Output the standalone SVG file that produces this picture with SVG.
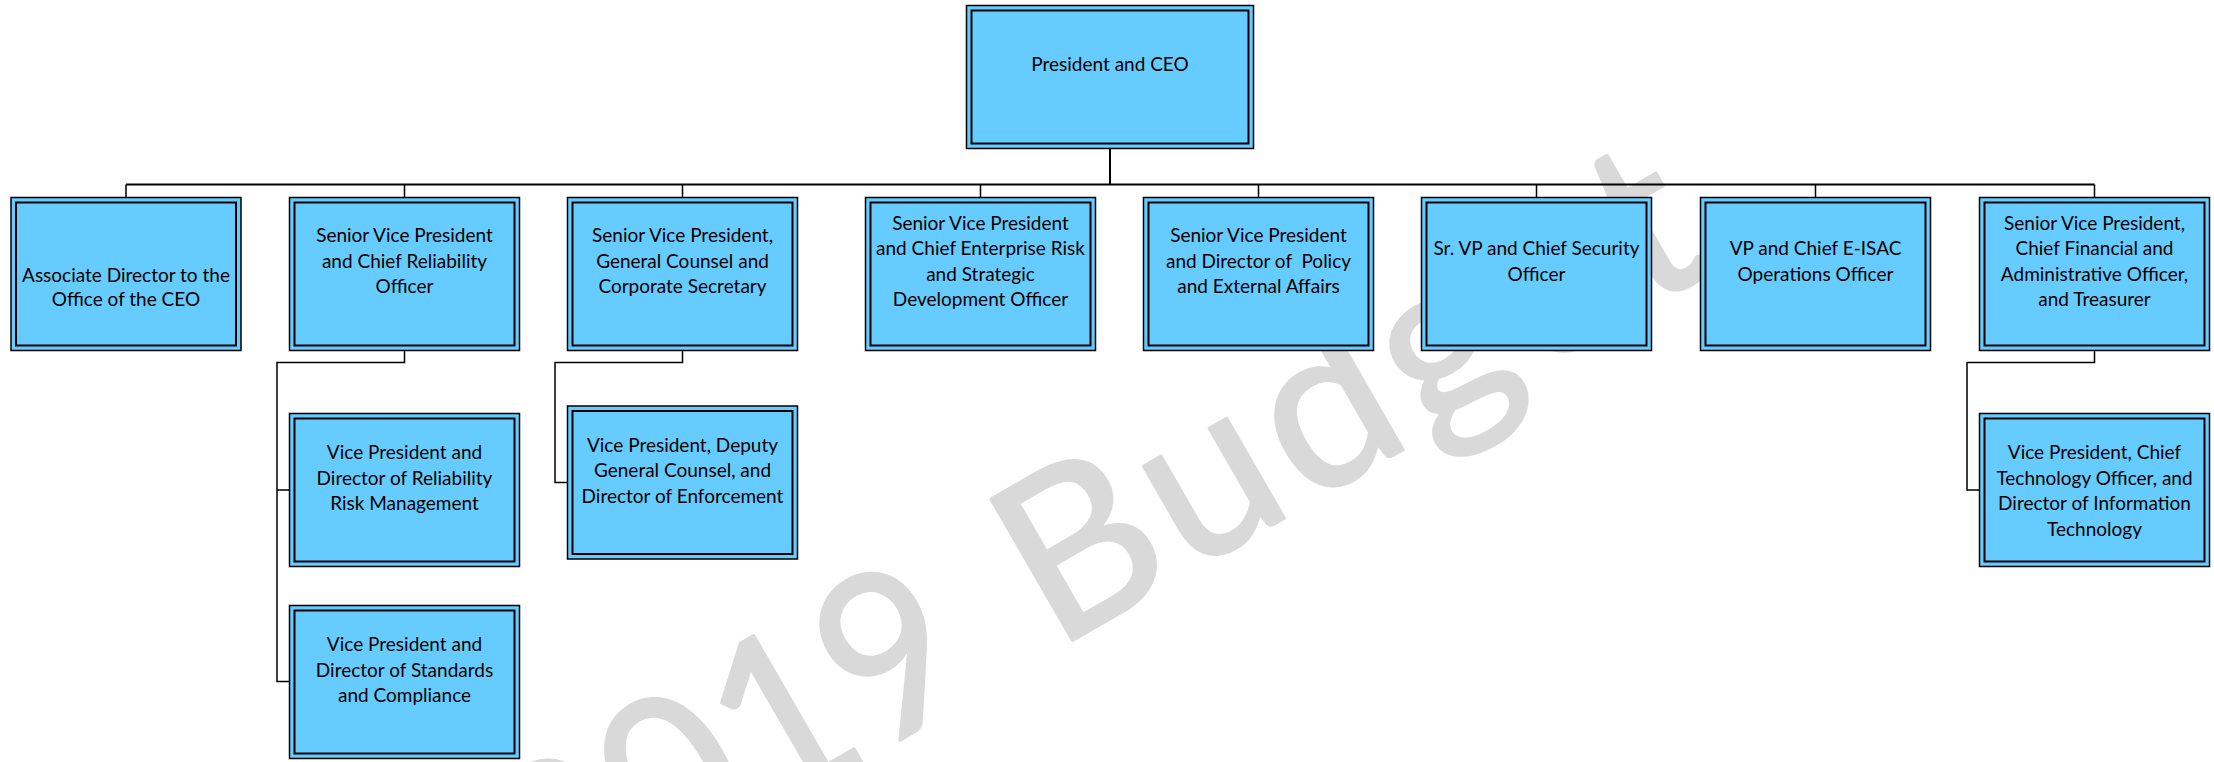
<svg xmlns="http://www.w3.org/2000/svg" width="2214" height="762" viewBox="0 0 2214 762">
<style>
.wm{font-family:Lato,"Open Sans",sans-serif;font-size:228px;fill:#d9d9d9;stroke:#d9d9d9;stroke-width:3;stroke-linejoin:round}
.ob{fill:#66ccff;stroke:#000;stroke-width:1.5}
.ib{fill:none;stroke:#000;stroke-width:2}
.t{font-family:Lato,"Liberation Sans",sans-serif;font-size:19px;fill:#000;text-anchor:middle}
.bus{fill:none;stroke:#000;stroke-width:2}
.con{fill:none;stroke:#000;stroke-width:1.5}
</style>
<rect width="2214" height="762" fill="#fff"/>
<g id="watermark">
<text class="wm" transform="translate(1070,642) rotate(-30)"><tspan x="-600" y="0" textLength="500" lengthAdjust="spacingAndGlyphs">2019</tspan><tspan x="-18" y="0" textLength="765" lengthAdjust="spacing">Budget</tspan></text>
</g>
<g id="connectors">
<path class="bus" d="M1110 148.5V184.5M126 184.5H2094.5"/>
<path class="con" d="M126 184.5V197.5M404.5 184.5V197.5M682.5 184.5V197.5M980.5 184.5V197.5M1258.5 184.5V197.5M1536.5 184.5V197.5M1815.5 184.5V197.5M2094.5 184.5V197.5"/>
<path class="con" d="M404.5 350.5V362.5H277V681.5H289.5M277 490H289.5"/>
<path class="con" d="M682.5 350.5V362.5H555V482.5H567.5"/>
<path class="con" d="M2094.5 350.5V362.5H1967V490H1979.5"/>
</g>
<g id="ceo">
<rect class="ob" x="966.5" y="5.5" width="287" height="143"/>
<rect class="ib" x="971.5" y="10.5" width="277" height="133"/>
<text class="t" x="1110" y="71">President and CEO</text>
</g>
<g id="assoc">
<rect class="ob" x="11" y="197.5" width="230" height="153"/>
<rect class="ib" x="16" y="202.5" width="220" height="143"/>
<text class="t" x="126" y="281.5">Associate Director to the</text>
<text class="t" x="126" y="306">Office of the CEO</text>
</g>
<g id="svp-reliability">
<rect class="ob" x="289.5" y="197.5" width="230" height="153"/>
<rect class="ib" x="294.5" y="202.5" width="220" height="143"/>
<text class="t" x="404.5" y="242">Senior Vice President</text>
<text class="t" x="404.5" y="267.5">and Chief Reliability</text>
<text class="t" x="404.5" y="293">Officer</text>
</g>
<g id="svp-counsel">
<rect class="ob" x="567.5" y="197.5" width="230" height="153"/>
<rect class="ib" x="572.5" y="202.5" width="220" height="143"/>
<text class="t" x="682.5" y="242">Senior Vice President,</text>
<text class="t" x="682.5" y="267.5">General Counsel and</text>
<text class="t" x="682.5" y="293">Corporate Secretary</text>
</g>
<g id="svp-risk">
<rect class="ob" x="865.5" y="197.5" width="230" height="153"/>
<rect class="ib" x="870.5" y="202.5" width="220" height="143"/>
<text class="t" x="980.5" y="229.5">Senior Vice President</text>
<text class="t" x="980.5" y="255">and Chief Enterprise Risk</text>
<text class="t" x="980.5" y="280.5">and Strategic</text>
<text class="t" x="980.5" y="306">Development Officer</text>
</g>
<g id="svp-policy">
<rect class="ob" x="1143.5" y="197.5" width="230" height="153"/>
<rect class="ib" x="1148.5" y="202.5" width="220" height="143"/>
<text class="t" x="1258.5" y="242">Senior Vice President</text>
<text class="t" x="1258.5" y="267.5" xml:space="preserve">and Director of  Policy</text>
<text class="t" x="1258.5" y="293">and External Affairs</text>
</g>
<g id="svp-security">
<rect class="ob" x="1421.5" y="197.5" width="230" height="153"/>
<rect class="ib" x="1426.5" y="202.5" width="220" height="143"/>
<text class="t" x="1536.5" y="255">Sr. VP and Chief Security</text>
<text class="t" x="1536.5" y="281">Officer</text>
</g>
<g id="vp-eisac">
<rect class="ob" x="1700.5" y="197.5" width="230" height="153"/>
<rect class="ib" x="1705.5" y="202.5" width="220" height="143"/>
<text class="t" x="1815.5" y="255">VP and Chief E-ISAC</text>
<text class="t" x="1815.5" y="281">Operations Officer</text>
</g>
<g id="svp-cfo">
<rect class="ob" x="1979.5" y="197.5" width="230" height="153"/>
<rect class="ib" x="1984.5" y="202.5" width="220" height="143"/>
<text class="t" x="2094.5" y="229.5">Senior Vice President,</text>
<text class="t" x="2094.5" y="255">Chief Financial and</text>
<text class="t" x="2094.5" y="280.5">Administrative Officer,</text>
<text class="t" x="2094.5" y="306">and Treasurer</text>
</g>
<g id="vp-risk-mgmt">
<rect class="ob" x="289.5" y="413.5" width="230" height="153"/>
<rect class="ib" x="294.5" y="418.5" width="220" height="143"/>
<text class="t" x="404.5" y="459">Vice President and</text>
<text class="t" x="404.5" y="484.5">Director of Reliability</text>
<text class="t" x="404.5" y="510">Risk Management</text>
</g>
<g id="vp-standards">
<rect class="ob" x="289.5" y="605.5" width="230" height="153"/>
<rect class="ib" x="294.5" y="610.5" width="220" height="143"/>
<text class="t" x="404.5" y="651">Vice President and</text>
<text class="t" x="404.5" y="676.5">Director of Standards</text>
<text class="t" x="404.5" y="702">and Compliance</text>
</g>
<g id="vp-enforcement">
<rect class="ob" x="567.5" y="406" width="230" height="153"/>
<rect class="ib" x="572.5" y="411" width="220" height="143"/>
<text class="t" x="682.5" y="451.5">Vice President, Deputy</text>
<text class="t" x="682.5" y="477">General Counsel, and</text>
<text class="t" x="682.5" y="502.5">Director of Enforcement</text>
</g>
<g id="vp-cto">
<rect class="ob" x="1979.5" y="413.5" width="230" height="153"/>
<rect class="ib" x="1984.5" y="418.5" width="220" height="143"/>
<text class="t" x="2094.5" y="459">Vice President, Chief</text>
<text class="t" x="2094.5" y="484.5">Technology Officer, and</text>
<text class="t" x="2094.5" y="510">Director of Information</text>
<text class="t" x="2094.5" y="535.5">Technology</text>
</g>
</svg>
